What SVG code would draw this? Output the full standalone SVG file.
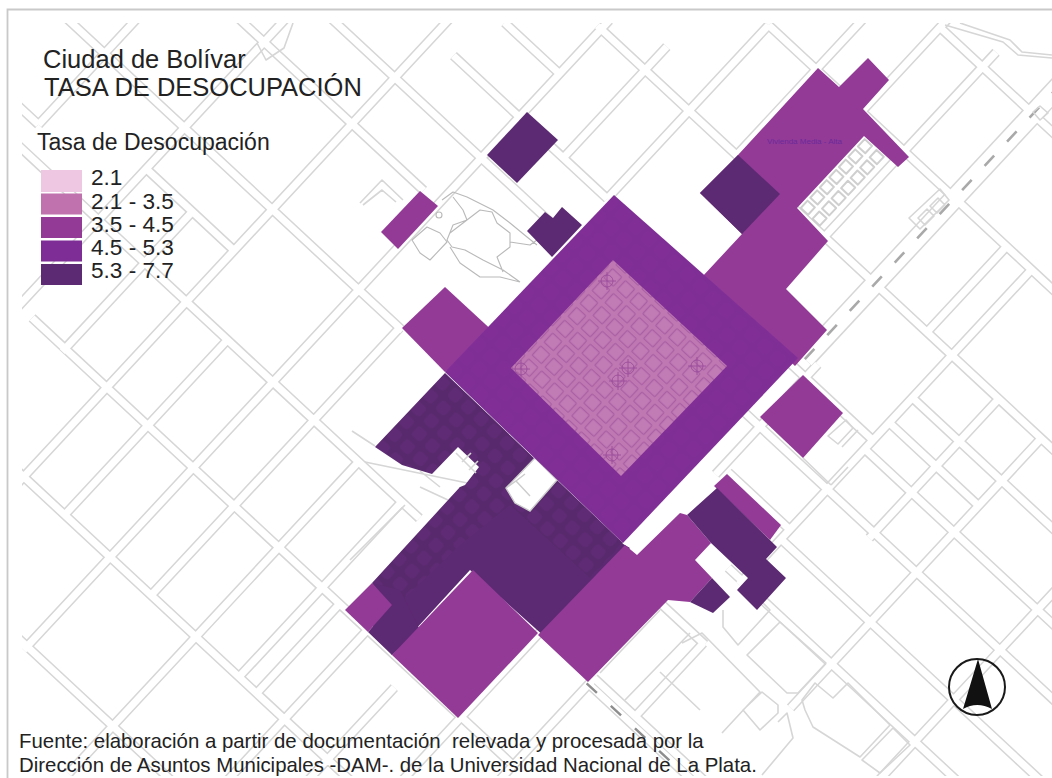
<svg xmlns="http://www.w3.org/2000/svg" width="1052" height="778" viewBox="0 0 1052 778">
<defs>
<clipPath id="map"><rect x="22" y="23" width="1030" height="753"/></clipPath>
<pattern id="pInner" width="17.6" height="17.6" patternUnits="userSpaceOnUse" patternTransform="rotate(42.9 613 260)">
<rect width="17.6" height="17.6" fill="#bf78b2"/><rect x="2.500" y="2.500" width="12.6" height="12.6" rx="1" fill="#c27cb5" stroke="#aa60a4" stroke-width="1.300"/>
</pattern>
<pattern id="pMid" width="17.6" height="17.6" patternUnits="userSpaceOnUse" patternTransform="rotate(42.9 613 260)">
<rect width="17.6" height="17.6" fill="#7e2e95"/><rect x="2.500" y="2.500" width="12.6" height="12.6" rx="2" fill="#812f97"/>
</pattern>
<pattern id="pDark" width="17.6" height="17.6" patternUnits="userSpaceOnUse" patternTransform="rotate(42.9 613 260)">
<rect width="17.6" height="17.6" fill="#58296c"/><rect x="2.500" y="2.500" width="12.6" height="12.6" rx="4" fill="#5e2b74"/>
</pattern>
<g id="cross"><circle r="6" fill="none" stroke="#9a4d9b" stroke-width=".9"/><path d="M-9 0H9M0-9V9" stroke="#9a4d9b" stroke-width=".9" fill="none"/></g>
</defs>
<style>
.g{fill:none;stroke:#d6d6d6;stroke-width:10}
.w{fill:none;stroke:#fff;stroke-width:7}
.t{fill:none;stroke:#d6d6d6;stroke-width:1.6;stroke-linejoin:round}
.o{fill:none;stroke:#b9b9b9;stroke-width:1.1;stroke-linejoin:round}
.m{fill:#933a97}
.d{fill:#5c2a72}
text{font-family:"Liberation Sans",Arial,sans-serif;fill:#222;white-space:pre}
.lg{font-size:22.6px}
.ft{font-size:20.4px}
</style>
<rect width="1052" height="778" fill="#fff"/>
<path d="M7.500 778V9.500H1052" fill="none" stroke="#c9c9c9" stroke-width="1.800"/>
<g id="streets" clip-path="url(#map)">
<g transform="rotate(42.92)">
<path class="g" d="M320 455H720M330 333H840M240 211H900M113 94H660M60-32H520M180-149H440M250-212H552M370-268H580M385-327H462M455-388H1300M580-505H1150M705-620H1000M790-272H939M780-205H1300M939-260H1300M939-330H1300M939-296H1061M939-137H1300M920-80H1300M855-150H939M897 92H1050M897-8H955M895 100H1100M222 24H342M80 65H113M113 65V-100M222 220V-260M285 215V24M342 345V-310M398 333V94M460 460V-400M516 333V-32M520-268V-420M577 520V94M580-268V-505M636 333V94M660 333V211M698 211V520M757 235V500M826 90V300M897 90V320M953 92V-8M645-388V-700M707-505V-800M765-640V-388M905-505V-388M939-505V-75M1061-390V-20M1175-320V40M1003-388V-198M847-290V-140"/>
<path class="g" style="stroke-width:21" d="M834-285V-660"/>
<path class="w" d="M320 455H720M330 333H840M240 211H900M113 94H660M60-32H520M180-149H440M250-212H552M370-268H580M385-327H462M455-388H1300M580-505H1150M705-620H1000M790-272H939M780-205H1300M939-260H1300M939-330H1300M939-296H1061M939-137H1300M920-80H1300M855-150H939M897 92H1050M897-8H955M895 100H1100M222 24H342M80 65H113M113 65V-100M222 220V-260M285 215V24M342 345V-310M398 333V94M460 460V-400M516 333V-32M520-268V-420M577 520V94M580-268V-505M636 333V94M660 333V211M698 211V520M757 235V500M826 90V300M897 90V320M953 92V-8M645-388V-700M707-505V-800M765-640V-388M905-505V-388M939-505V-75M1061-390V-20M1175-320V40M1003-388V-198M847-290V-140"/>
<path class="w" style="stroke-width:18" d="M834-285V-660"/>
<path d="M834-285V-660" fill="none" stroke="#a9a9a9" stroke-width="2.600" stroke-dasharray="14 19"/>
<path d="M895 101H1010" fill="none" stroke="#8d8d8d" stroke-width="2.400" stroke-dasharray="14 19"/>
<path class="t" style="stroke:#cfcfcf;stroke-width:2" d="M728-487h10v10h-10zM728-473h10v10h-10zM728-459h10v10h-10zM728-445h10v10h-10zM728-431h10v10h-10zM728-417h10v10h-10zM728-403h10v10h-10zM744-487h10v10h-10zM744-473h10v10h-10zM744-459h10v10h-10zM744-445h10v10h-10zM744-431h10v10h-10zM744-417h10v10h-10zM744-403h10v10h-10z"/>
</g>
<path class="t" d="M682 643L702 633L760 692L722 733M747 655L780 622L826 663L798 693L787 693ZM743 710L762 692L778 705L778 713L760 730ZM778 722L787 713L793 738L762 775M802 700L815 683L833 698L848 683L890 725L860 757L813 727L805 710ZM862 760L893 728L910 745L880 773ZM723 610L723 627L738 645L770 610L760 600M909 218L940 189L949 200L920 229ZM918 218L927 209L934 216L925 225ZM930 206L938 198L945 205L937 213ZM1033 112L1040 106L1048 113L1040 120ZM846 420L853 428L838 444L828 436ZM842 447L858 430M848 467L831 485M803 458L831 485M360 203L382 180L403 200M363 205L382 190L396 202M945 25L1003 42L1018 55L1052 58M960 23L1010 40L1022 52L1052 55M352 431L375 446M365 462L477 485M420 487L448 500M420 471L440 487M350 560L405 505M660 610L600 673M690 633L625 700M660 672L700 710M293 23L284 48L266 60L257 43"/>
<g>
<path class="o" d="M442 200L453 192L467 197L493 210L510 223L527 237L537 245M453 197L463 210L467 220L453 225L447 240L452 247L465 250L483 260L503 270L520 282M450 233L480 210L492 212L497 223L510 233L510 247L497 257L503 272M510 242L530 245L537 240M412 240L427 227L440 233L447 242L430 260L420 253ZM450 247L460 263L480 277L500 277L520 282"/>
<circle class="o" cx="439" cy="215" r="3"/>
</g>
</g>
<g id="zones">
<path id="z-ne" class="m" d="M818 68L839 87L868 58L889 80L863 109L909 157L898 167L864 136L797 208L828 241L786 289L827 330L795 366L702 277L742 234L700 193L738 155Z"/>
<path id="z-nw" class="m" d="M420 191L438 206L398 249L381 232Z"/>
<path id="z-w" class="m" d="M445 287L497 335L445 372L402 328Z"/>
<path id="z-sw-dark2" class="d" d="M500 495L540 495L630 548L545 637L470 570L392 655L372 625L420 560L460 487Z"/>
<path id="z-sw-dark" style="fill:url(#pDark)" d="M445 373L623 543L590 578L510 505L460 545L392 610L372 583L460 487L465 485L479 467L458 447L432 474L402 465L375 447Z"/>
<path id="z-sw-c" class="d" d="M372 583L392 605L368 632L392 655L420 630L400 590Z"/>
<path id="z-notch" class="t" d="M462 462L471 453M469 470L478 461M456 453L476 473"/>
<path id="z-hole" d="M535 458L557 480L530 511L515 503L506 488Z" fill="#fff" stroke="#ccc" stroke-width="1.400"/>
<path id="z-hole-l" d="M506 488L516 481L530 496M516 481L525 474" fill="none" stroke="#ccc" stroke-width="1.400"/>
<path id="z-sw-a" class="m" d="M372 583L392 605L368 632L345 610Z"/>
<path id="z-sw-b" class="m" d="M473 570L538 633L458 718L392 655Z"/>
<path id="z-s" class="m" d="M538 635L625 545L637 555L680 513L687 515L711 543L695 560L712 578L690 602L668 600L588 682Z"/>
<path id="z-s-d" class="d" d="M712 578L730 597L713 613L690 602Z"/>
<path id="z-se-m" class="m" d="M727 474L781 525L770 540L714 486Z"/>
<path id="z-se-d" class="d" d="M717 488L777 547L766 559L786 578L757 610L737 590L748 578L711 543L687 515Z"/>
<path id="z-e" class="m" d="M803 375L843 413L803 458L760 417Z"/>
<path id="z-d1" class="d" d="M527 112L558 140L517 183L487 155Z"/>
<path id="z-d2" class="d" d="M527 231L545 212L553 218L562 207L582 225L552 257Z"/>
<path id="z-d3" class="d" d="M700 193L738 155L780 194L742 234Z"/>
<path id="z-mid" style="fill:url(#pMid)" d="M614 195L798 358L623 543L445 372Z"/>
<path id="z-in" style="fill:url(#pInner)" d="M613 260L727 366L621 476L511 368Z"/>
<use href="#cross" x="607" y="281"/><use href="#cross" x="521" y="369"/><use href="#cross" x="697" y="366"/><use href="#cross" x="618" y="381"/><use href="#cross" x="628" y="368"/><use href="#cross" x="612" y="455"/>
<text x="767" y="144" style="font-size:8px;fill:#6a2a9a">Vivienda Media - Alta</text>
</g>
<g id="titles">
<text x="43" y="68" style="font-size:25.5px">Ciudad de Bolívar</text>
<text x="44" y="96" style="font-size:25.5px">TASA DE DESOCUPACIÓN</text>
<text x="37" y="150" style="font-size:23px">Tasa de Desocupación</text>
</g>
<g id="legend">
<rect x="41" y="170" width="41" height="22" fill="#eec8e2"/>
<rect x="41" y="193.500" width="41" height="21" fill="#bf72ae"/>
<rect x="41" y="217" width="41" height="21" fill="#933a97"/>
<rect x="41" y="240.500" width="41" height="21" fill="#7f2d96"/>
<rect x="41" y="264" width="41" height="21" fill="#5b2a72"/>
<text class="lg" x="91" y="185">2.1</text>
<text class="lg" x="91" y="209">2.1 - 3.5</text>
<text class="lg" x="91" y="232">3.5 - 4.5</text>
<text class="lg" x="91" y="255">4.5 - 5.3</text>
<text class="lg" x="91" y="278">5.3 - 7.7</text>
</g>
<g id="north">
<circle cx="977" cy="687" r="28" fill="none" stroke="#1a1a1a" stroke-width="2"/>
<path d="M978 659L992 709Q977 701 963 709Z" fill="#111"/>
</g>
<g id="source">
<text class="ft" x="19" y="748">Fuente: elaboración a partir de documentación  relevada y procesada por la</text>
<text class="ft" x="19" y="772">Dirección de Asuntos Municipales -DAM-. de la Universidad Nacional de La Plata.</text>
</g>
</svg>
